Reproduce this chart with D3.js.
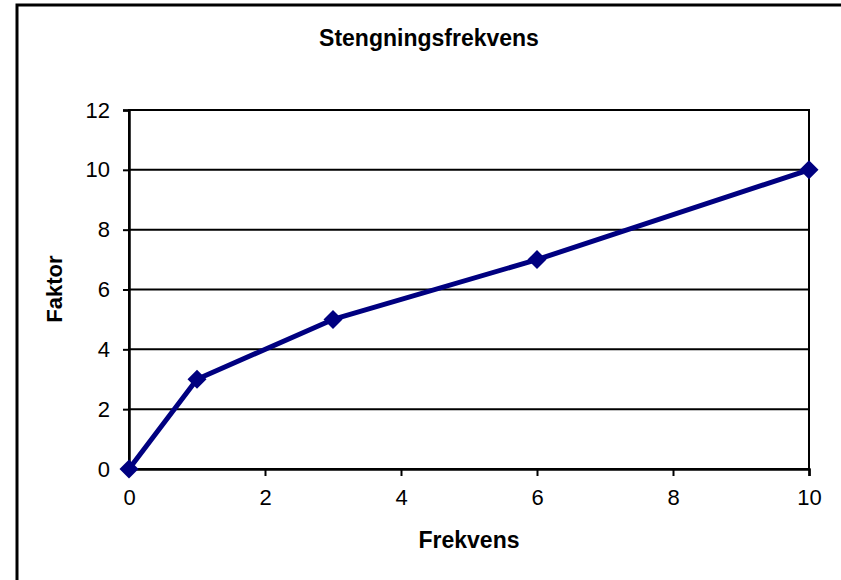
<!DOCTYPE html>
<html><head><meta charset="utf-8">
<script src="https://cdn.jsdelivr.net/npm/d3@7"></script>
<style>body{margin:0;background:#fff}svg{display:block}text{font-family:"Liberation Sans",Arial,sans-serif}</style>
</head><body>
<script>
const title = "Stengningsfrekvens";
const xLabel = "Frekvens";
const yLabel = "Faktor";
const xValues = [0, 1, 3, 6, 10];
const yValues = [0, 3, 5, 7, 10];
const xTicks = [0, 2, 4, 6, 8, 10];
const yTicks = [0, 2, 4, 6, 8, 10, 12];

const W = 841, H = 580;
const m = {left:129, right:809, top:110, bottom:469};
const svg = d3.select("body").append("svg").attr("width", W).attr("height", H);

// outer frame
svg.append("rect").attr("x",17).attr("y",5).attr("width",W).attr("height",H)
  .attr("fill","#fff").attr("stroke","#000").attr("stroke-width",3);

const x = d3.scaleLinear().domain([0,10]).range([m.left, m.right]);
const y = d3.scaleLinear().domain([0,12]).range([m.bottom, m.top]);

// gridlines
svg.append("g").selectAll("line").data(yTicks.filter(d=>d>0)).join("line")
  .attr("x1", m.left).attr("x2", m.right)
  .attr("y1", d=>y(d)).attr("y2", d=>y(d))
  .attr("stroke","#000").attr("stroke-width",2);

// plot border
svg.append("rect").attr("x",m.left).attr("y",m.top).attr("width",m.right-m.left).attr("height",m.bottom-m.top)
  .attr("fill","none").attr("stroke","#000").attr("stroke-width",2);

// axes
const yAxis = svg.append("g").attr("transform",`translate(${m.left},0)`)
  .call(d3.axisLeft(y).tickValues(yTicks).tickSize(6).tickPadding(13).tickFormat(d3.format("d")));
const xAxis = svg.append("g").attr("transform",`translate(0,${m.bottom})`)
  .call(d3.axisBottom(x).tickValues(xTicks).tickSize(7).tickPadding(13).tickFormat(d3.format("d")));
[yAxis, xAxis].forEach(a=>{
  a.attr("font-size",22).attr("font-family",'"Liberation Sans",Arial,sans-serif');
  a.select(".domain").attr("stroke","#000").attr("stroke-width",2.5);
  a.selectAll(".tick line").attr("stroke","#000").attr("stroke-width",2);
  a.selectAll("text").attr("fill","#000");
});

// line
const pts = xValues.map((v,i)=>[v, yValues[i]]);
svg.append("path").datum(pts)
  .attr("d", d3.line().x(d=>x(d[0])).y(d=>y(d[1])))
  .attr("fill","none").attr("stroke","#000080").attr("stroke-width",5).attr("stroke-linejoin","round");

// markers
svg.append("g").selectAll("path").data(pts).join("path")
  .attr("transform", d=>`translate(${x(d[0])},${y(d[1])})`)
  .attr("d","M0,-9.5L9.5,0L0,9.5L-9.5,0Z").attr("fill","#000080");

// title & labels
svg.append("text").attr("x",429).attr("y",46).attr("text-anchor","middle")
  .attr("font-size",23).attr("font-weight","bold").text(title);
svg.append("text").attr("x",469).attr("y",548).attr("text-anchor","middle")
  .attr("font-size",23).attr("font-weight","bold").text(xLabel);
svg.append("text").attr("transform","translate(62,289) rotate(-90)").attr("text-anchor","middle")
  .attr("font-size",22).attr("font-weight","bold").text(yLabel);
</script>
</body></html>
